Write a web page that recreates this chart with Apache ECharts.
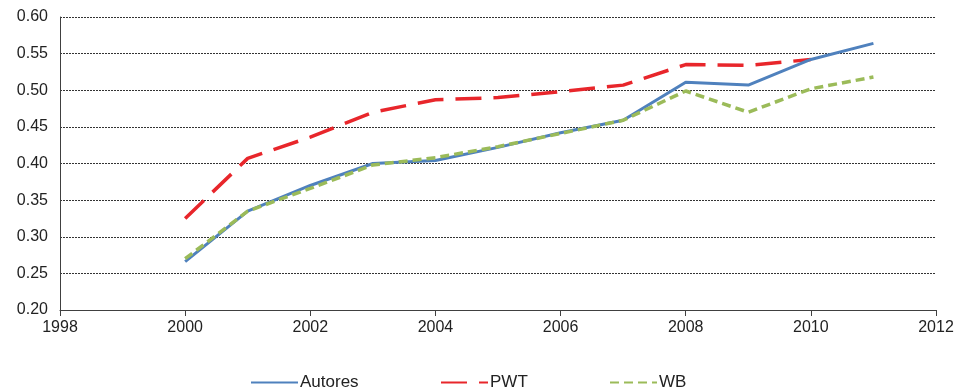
<!DOCTYPE html>
<html>
<head>
<meta charset="utf-8">
<script src="https://cdn.jsdelivr.net/npm/echarts@6/dist/echarts.min.js"></script>
<style>
  html, body { margin: 0; padding: 0; background: #fff; }
  #chart { width: 958px; height: 392px; }
</style>
</head>
<body>
<div id="chart"></div>
<script>
// Years on the horizontal axis
const years = [2000, 2001, 2002, 2003, 2004, 2005, 2006, 2007, 2008, 2009, 2010, 2011];

// Series values per year (null = no observation)
const autores = [0.266, 0.335, 0.370, 0.400, 0.404, 0.422, 0.442, 0.459, 0.511, 0.507, 0.542, 0.564];
const pwt     = [0.325, 0.407, 0.436, 0.470, 0.487, 0.490, 0.498, 0.507, 0.535, 0.534, 0.542, null];
const wb      = [0.270, 0.335, 0.366, 0.398, 0.408, 0.423, 0.441, 0.459, 0.499, 0.470, 0.502, 0.518];

const seriesNames = ['Autores', 'PWT', 'WB'];

const pairs = arr => years.map((y, i) => [y, arr[i]]).filter(p => p[1] !== null);

const chart = echarts.init(document.getElementById('chart'));
const font = 'Liberation Sans, Arial, sans-serif';

// One legend block per series so each entry sits at its own spot
const legendAt = (name, left) => ({
  data: [name],
  left: left,
  top: 374,
  padding: 0,
  itemWidth: 47,
  itemHeight: 10,
  itemStyle: { opacity: 0 },
  textStyle: { color: '#222', fontSize: 17, fontFamily: font, padding: [0, 0, 0, -3] }
});

chart.setOption({
  animation: false,
  grid: { left: 60, right: 22, top: 17, bottom: 82 },
  xAxis: {
    type: 'value',
    min: 1998, max: 2012, interval: 2,
    axisLine: { lineStyle: { color: '#404040', width: 1 } },
    axisTick: { show: true, length: 6, lineStyle: { color: '#404040' } },
    axisLabel: { color: '#222', fontSize: 16, fontFamily: font, margin: 10,
      formatter: v => String(v) },
    splitLine: { show: false }
  },
  yAxis: {
    type: 'value',
    min: 0.20, max: 0.60, interval: 0.05,
    axisLine: { show: true, lineStyle: { color: '#404040', width: 1 } },
    axisTick: { show: false },
    axisLabel: { color: '#222', fontSize: 16, fontFamily: font, margin: 12,
      formatter: v => v.toFixed(2) },
    splitLine: { show: true, lineStyle: { color: '#333', width: 1, type: [2, 1] } }
  },
  legend: [
    legendAt(seriesNames[0], 250),
    legendAt(seriesNames[1], 440),
    legendAt(seriesNames[2], 609)
  ],
  series: [
    {
      name: seriesNames[0], type: 'line', symbol: 'none',
      data: pairs(autores),
      lineStyle: { color: '#4F81BD', width: 3 },
      itemStyle: { color: '#4F81BD' },
      z: 3
    },
    {
      name: seriesNames[1], type: 'line', symbol: 'none',
      data: pairs(pwt),
      lineStyle: { color: '#E8262B', width: 3.5, type: [26, 12] },
      itemStyle: { color: '#E8262B' },
      z: 2
    },
    {
      name: seriesNames[2], type: 'line', symbol: 'none',
      data: pairs(wb),
      lineStyle: { color: '#9BBB59', width: 3.5, type: [9, 5] },
      itemStyle: { color: '#9BBB59' },
      z: 4
    }
  ]
});
</script>
</body>
</html>
